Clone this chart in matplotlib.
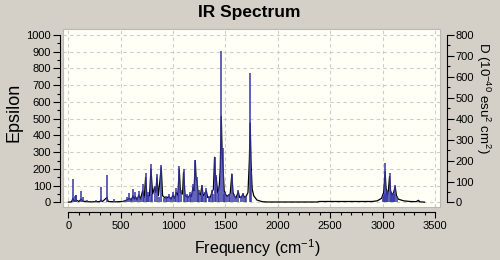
import numpy as np
import matplotlib
matplotlib.use("Agg")
import matplotlib.pyplot as plt
from matplotlib.patches import Rectangle

plt.rcParams['font.family'] = ['Liberation Sans', 'DejaVu Sans']
plt.rcParams['mathtext.fontset'] = 'custom'
plt.rcParams['mathtext.rm'] = 'Liberation Sans'
plt.rcParams['mathtext.it'] = 'Liberation Sans'

# stick spectrum: frequency (cm-1) and D (10^-40 esu^2 cm^2), right axis
stick_freq = [45, 62, 70, 78, 124, 140, 178, 230, 267, 312, 369, 439, 520, 545, 560, 582,
              600, 617, 639, 655, 674, 690, 709, 722, 738, 750, 763, 775, 789, 800, 823,
              846, 870, 887, 910, 930, 945, 960, 980, 1000, 1015, 1030, 1045, 1059, 1080,
              1100, 1115, 1130, 1145, 1160, 1175, 1190, 1212, 1228, 1240, 1250, 1262,
              1275, 1288, 1300, 1317, 1340, 1355, 1370, 1385, 1396, 1412, 1425, 1440,
              1460, 1475, 1490, 1500, 1515, 1530, 1545, 1561, 1580, 1600, 1622, 1650,
              1667, 1685, 1700, 1736, 1745, 3000, 3010, 3024, 3033, 3040, 3055, 3066,
              3080, 3090, 3100, 3110, 3120, 3140, 3342]
stick_d = [113, 30, 38, 35, 57, 25, 10, 6, 10, 72, 131, 15, 8, 12, 25, 45,
           20, 66, 48, 25, 57, 20, 88, 30, 140, 35, 48, 30, 186, 40, 80,
           137, 25, 180, 20, 30, 20, 40, 25, 50, 30, 70, 35, 175, 60,
           160, 35, 40, 30, 50, 35, 90, 202, 120, 40, 60, 35,
           85, 30, 50, 70, 30, 25, 60, 40, 218, 130, 45, 80,
           724, 260, 40, 50, 30, 40, 35, 136, 40, 25, 60, 30,
           45, 25, 30, 620, 150, 30, 40, 190, 45, 60, 50, 140,
           50, 35, 45, 40, 85, 30, 9]

# broadened spectrum: frequency (cm-1) and epsilon, left axis
curve_freq = [0, 30, 45, 55, 75, 100, 124, 135, 200, 300, 312, 325, 369, 380, 450, 520,
              560, 582, 600, 617, 630, 639, 655, 674, 690, 709, 725, 738, 750, 763, 775,
              789, 805, 823, 835, 846, 860, 887, 900, 930, 960, 980, 1000, 1015, 1030,
              1045, 1059, 1070, 1080, 1090, 1100, 1115, 1130, 1145, 1160, 1175, 1190,
              1200, 1212, 1220, 1228, 1240, 1250, 1262, 1275, 1288, 1300, 1317, 1330,
              1340, 1355, 1370, 1385, 1396, 1405, 1412, 1425, 1440, 1450, 1460, 1468,
              1475, 1488, 1500, 1515, 1530, 1545, 1561, 1572, 1580, 1600, 1622, 1635,
              1650, 1667, 1680, 1700, 1715, 1728, 1736, 1745, 1755, 1770, 1800, 1850,
              1900, 2380, 2390, 2900, 2950, 2990, 3010, 3017, 3024, 3032, 3045, 3055,
              3066, 3076, 3090, 3105, 3120, 3132, 3150, 3200, 3260, 3320, 3342, 3355, 3400]
curve_eps = [2, 4, 25, 8, 15, 6, 20, 8, 4, 5, 15, 5, 30, 6, 4, 6,
             15, 25, 12, 40, 20, 35, 15, 45, 20, 70, 30, 150, 40, 40, 40,
             200, 50, 90, 60, 150, 40, 210, 40, 25, 35, 20, 45, 25, 60,
             40, 200, 60, 55, 50, 180, 40, 35, 30, 45, 35, 90,
             70, 250, 140, 130, 50, 55, 45, 100, 40, 50, 70, 30,
             30, 30, 60, 80, 270, 130, 150, 60, 90, 200, 515, 300,
             230, 70, 50, 35, 45, 50, 170, 60, 45, 25, 65, 30,
             30, 50, 30, 40, 60, 250, 475, 220, 80, 40, 15, 5,
             3, 3, 6, 6, 10, 25, 60, 120, 185, 90, 40, 70,
             155, 70, 45, 60, 95, 40, 20, 10, 6, 5, 13, 4, 2]

bg = '#d4d0c8'
fig = plt.figure(figsize=(5, 2.6), dpi=100, facecolor=bg)
ax = fig.add_axes([63 / 500, 53 / 260, 377 / 500, 178 / 260])
ax.set_facecolor('#fffff6')
ax.set_xlim(-50.6, 3547.7)
ax.set_ylim(-26.9, 1035.8)

ax.grid(True, color='#cccccc', linestyle=(0, (3, 3)), linewidth=0.8)
ax.set_axisbelow(True)
ax.set_xticks(np.arange(0, 3501, 500))
ax.set_xticks(np.arange(0, 3501, 100), minor=True)
ax.set_yticks(np.arange(0, 1001, 100))
ax.set_yticks(np.arange(0, 1001, 50), minor=True)
ax.grid(False, which='minor')

ax.plot(curve_freq, curve_eps, color='black', linewidth=0.9, zorder=3)

ax2 = ax.twinx()
ax2.set_ylim(-26.9 * 0.8, 1035.8 * 0.8)
ax2.set_yticks(np.arange(0, 801, 100))
ax2.set_yticks(np.arange(0, 801, 50), minor=True)
ax2.vlines(stick_freq, 0, stick_d, color='#3535a8', linewidth=1.1)

for a in (ax, ax2):
    a.spines['top'].set_visible(False)
ax.spines['right'].set_visible(False)
ax2.spines['left'].set_visible(False)
ax2.spines['bottom'].set_visible(False)
ax.spines['left'].set_position(('outward', 2.5))
ax.spines['left'].set_bounds(0, 1000)
ax.spines['bottom'].set_position(('outward', 3.8))
ax.spines['bottom'].set_bounds(0, 3500)
ax2.spines['right'].set_position(('outward', 5))
ax2.spines['right'].set_bounds(0, 800)

ax.tick_params(axis='y', which='major', length=5, width=0.8, labelsize=8, pad=1)
ax.tick_params(axis='y', which='minor', length=2.5, width=0.8)
ax.tick_params(axis='x', which='major', length=4.5, width=0.8, labelsize=8, pad=2)
ax.tick_params(axis='x', which='minor', length=2.5, width=0.8)
ax2.tick_params(axis='y', which='major', length=5, width=0.8, labelsize=8, pad=1)
ax2.tick_params(axis='y', which='minor', length=2.5, width=0.8)

fig.patches.append(Rectangle((63 / 500, 53 / 260), 377 / 500, 178 / 260,
                             transform=fig.transFigure, fill=False,
                             edgecolor='#b8b8b8', linewidth=0.8, zorder=5))

fig.text(0.499, 1 - 13 / 260, 'IR Spectrum', ha='center', va='center',
         fontsize=12.5, fontweight='bold')
fig.text(257.5 / 500, 1 - 248 / 260, 'Frequency (cm$^{-1}$)', ha='center', va='center',
         fontsize=11.5)
fig.text(14 / 500, 1 - 112 / 260, 'Epsilon', ha='center', va='center',
         rotation=90, fontsize=13)
fig.text(483 / 500, 1 - 98 / 260, 'D (10$^{-40}$ esu$^2$ cm$^2$)', ha='center',
         va='center', rotation=270, fontsize=9.5)

fig.savefig('out.png', dpi=100, facecolor=bg)
